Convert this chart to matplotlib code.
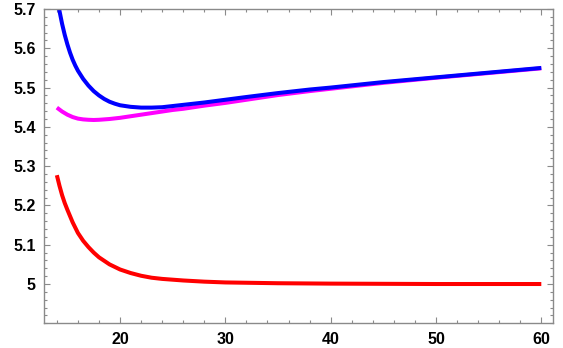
import matplotlib
matplotlib.use("Agg")
import matplotlib.pyplot as plt
from matplotlib.ticker import MultipleLocator, FixedLocator, FixedFormatter

plt.rcParams['font.family'] = ['Liberation Sans', 'DejaVu Sans']

# Data
blue_x = [14, 14.25, 14.5, 14.75, 15, 15.25, 15.5, 15.75, 16, 16.5, 17, 17.5, 18, 18.5, 19, 19.5, 20, 21, 22, 23, 24, 25, 26, 27, 28, 30, 32, 35, 38, 40, 45, 50, 55, 60]
blue_y = [5.733, 5.695, 5.662, 5.634, 5.610, 5.589, 5.571, 5.556, 5.543, 5.522, 5.505, 5.491, 5.480, 5.471, 5.464, 5.459, 5.455, 5.451, 5.449, 5.449, 5.450, 5.453, 5.456, 5.459, 5.462, 5.469, 5.476, 5.486, 5.495, 5.500, 5.514, 5.526, 5.538, 5.550]

magenta_x = [14, 14.5, 15, 15.5, 16, 16.5, 17, 17.5, 18, 19, 20, 21, 22, 23, 24, 25, 26, 27, 28, 30, 32, 35, 38, 40, 45, 50, 55, 60]
magenta_y = [5.449, 5.439, 5.431, 5.425, 5.421, 5.419, 5.418, 5.4175, 5.418, 5.420, 5.423, 5.427, 5.431, 5.435, 5.439, 5.443, 5.446, 5.450, 5.454, 5.461, 5.469, 5.481, 5.491, 5.497, 5.512, 5.525, 5.537, 5.549]

red_x = [14, 14.25, 14.5, 14.75, 15, 15.5, 16, 16.5, 17, 17.5, 18, 19, 20, 21, 22, 23, 24, 26, 28, 30, 35, 40, 50, 60]
red_y = [5.277, 5.250, 5.226, 5.206, 5.189, 5.157, 5.130, 5.110, 5.094, 5.080, 5.068, 5.050, 5.037, 5.028, 5.021, 5.016, 5.013, 5.009, 5.006, 5.004, 5.002, 5.001, 5.000, 5.000]

x_ticks = [20, 30, 40, 50, 60]
x_tick_labels = ["20", "30", "40", "50", "60"]
y_ticks = [5.0, 5.1, 5.2, 5.3, 5.4, 5.5, 5.6, 5.7]
y_tick_labels = ["5", "5.1", "5.2", "5.3", "5.4", "5.5", "5.6", "5.7"]

fig = plt.figure(figsize=(5.63, 3.48), dpi=100)
ax = fig.add_axes([44/563, 1-323.3/348, (553-44)/563, (323.3-9)/348])

lw = 2.9
ax.plot(red_x, red_y, color=(1, 0, 0), lw=lw, solid_capstyle='butt', solid_joinstyle='round')
ax.plot(magenta_x, magenta_y, color=(1, 0, 1), lw=lw, solid_capstyle='butt', solid_joinstyle='round')
ax.plot(blue_x, blue_y, color=(0, 0, 1), lw=lw, solid_capstyle='butt', solid_joinstyle='round')

ax.set_xlim(12.78, 61.11)
ax.set_ylim(4.9, 5.7)

ax.xaxis.set_major_locator(FixedLocator(x_ticks))
ax.xaxis.set_major_formatter(FixedFormatter(x_tick_labels))
ax.yaxis.set_major_locator(FixedLocator(y_ticks))
ax.yaxis.set_major_formatter(FixedFormatter(y_tick_labels))
ax.xaxis.set_minor_locator(MultipleLocator(2))
ax.yaxis.set_minor_locator(MultipleLocator(0.02))

gray = '#8a8a8a'
for s in ax.spines.values():
    s.set_color(gray)
    s.set_linewidth(1.0)

ax.tick_params(which='both', direction='in', top=True, right=True, color=gray, width=0.8)
ax.tick_params(which='major', length=4.5)
ax.tick_params(which='minor', length=2.5)
ax.tick_params(axis='x', which='major', pad=6, labelsize=11.5)
ax.tick_params(axis='y', which='major', pad=6, labelsize=11.5)
for lab in ax.get_xticklabels() + ax.get_yticklabels():
    lab.set_fontweight('bold')

fig.savefig("out.png", dpi=100)
